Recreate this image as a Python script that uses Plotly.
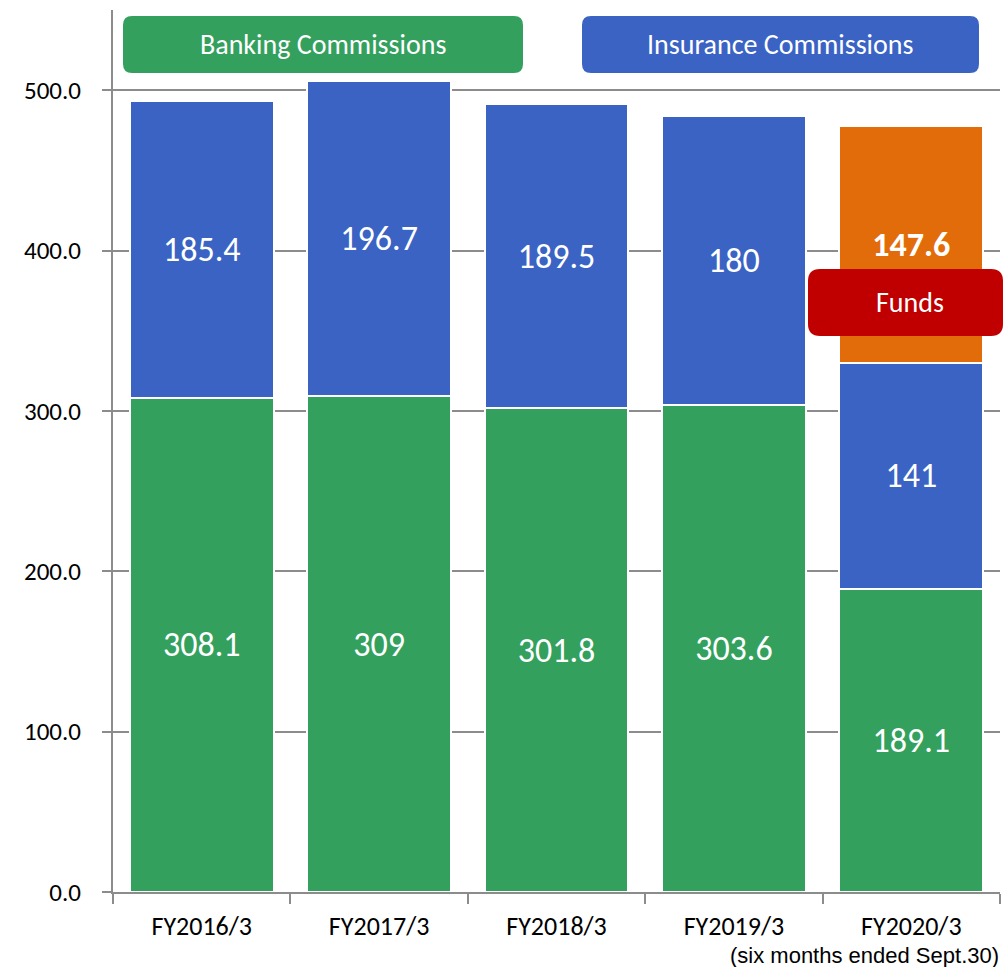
import plotly.graph_objects as go

categories = ["FY2016/3", "FY2017/3", "FY2018/3", "FY2019/3", "FY2020/3"]
banking = [308.1, 309, 301.8, 303.6, 189.1]
insurance = [185.4, 196.7, 189.5, 180, 141]
funds = [None, None, None, None, 147.6]

GREEN = "#34A05E"
BLUE = "#3A63C4"
ORANGE = "#E36C0A"
RED = "#C00000"
GRID = "#8C8C8C"
FONT = "Carlito, Lato, sans-serif"

W, H = 1004, 967
ML, MR, MT, MB = 113, 4, 10, 75
PW, PH = W - ML - MR, H - MT - MB


def px2paper(x, y):
    return (x - ML) / PW, (H - MB - y) / PH


def rounded_rect(x0, y0, x1, y1, r=9):
    def P(x, y):
        a, b = px2paper(x, y)
        return f"{a:.5f},{b:.5f}"
    return (f"M {P(x0 + r, y0)} L {P(x1 - r, y0)} Q {P(x1, y0)} {P(x1, y0 + r)} "
            f"L {P(x1, y1 - r)} Q {P(x1, y1)} {P(x1 - r, y1)} "
            f"L {P(x0 + r, y1)} Q {P(x0, y1)} {P(x0, y1 - r)} "
            f"L {P(x0, y0 + r)} Q {P(x0, y0)} {P(x0 + r, y0)} Z")


fig = go.Figure()
common = dict(width=0.81, textposition="inside", insidetextanchor="middle",
              textangle=0, constraintext="none",
              marker_line=dict(color="white", width=2))
tf = dict(color="white", size=34, family=FONT)
fig.add_bar(x=categories, y=banking, name="Banking Commissions",
            marker_color=GREEN, text=[f"{v:g}" for v in banking],
            textfont=tf, **common)
fig.add_bar(x=categories, y=insurance, name="Insurance Commissions",
            marker_color=BLUE, text=[f"{v:g}" for v in insurance],
            textfont=tf, **common)
fig.add_bar(x=categories, y=funds, name="Funds",
            marker_color=ORANGE,
            text=["" if v is None else f"<b>{v:g}</b>" for v in funds],
            textfont=tf, **common)

shapes = [
    dict(type="path", path=rounded_rect(123, 16, 523, 73), xref="paper", yref="paper",
         fillcolor=GREEN, line=dict(width=0), layer="above"),
    dict(type="path", path=rounded_rect(582, 16, 979, 73), xref="paper", yref="paper",
         fillcolor=BLUE, line=dict(width=0), layer="above"),
    dict(type="path", path=rounded_rect(808, 269, 1003, 336, r=12), xref="paper", yref="paper",
         fillcolor=RED, line=dict(width=0), layer="above"),
]


def ann(text, x, y, size, color="white", family=FONT, xanchor="center"):
    a, b = px2paper(x, y)
    return dict(text=text, x=a, y=b, xref="paper", yref="paper", showarrow=False,
                xanchor=xanchor, yanchor="middle",
                font=dict(color=color, size=size, family=family))


annotations = [
    ann("Banking Commissions", 323, 45, 28),
    ann("Insurance Commissions", 780, 45, 28),
    ann("Funds", 910, 303, 28),
    ann("(six months ended Sept.30)", 1001, 955, 22, color="black",
        family="Liberation Sans, Arial, sans-serif", xanchor="right"),
]

fig.update_layout(
    barmode="stack",
    width=W, height=H,
    margin=dict(l=ML, r=MR, t=MT, b=MB),
    plot_bgcolor="white", paper_bgcolor="white",
    showlegend=False,
    shapes=shapes,
    annotations=annotations,
    xaxis=dict(showline=True, linecolor=GRID, linewidth=2, ticks="outside",
               tickson="boundaries", ticklen=10, tickwidth=2, tickcolor=GRID,
               ticklabelstandoff=10,
               tickfont=dict(size=26, family=FONT, color="black"),
               showgrid=False),
    yaxis=dict(range=[0, 550], dtick=100, tickformat=".1f", showline=True,
               linecolor=GRID, linewidth=2, ticks="outside", ticklen=9,
               tickwidth=2, tickcolor=GRID, showgrid=True, gridcolor=GRID,
               gridwidth=2, zeroline=False, ticklabelstandoff=16,
               tickfont=dict(size=25, family=FONT, color="black")),
)

fig.write_html("out.html")
